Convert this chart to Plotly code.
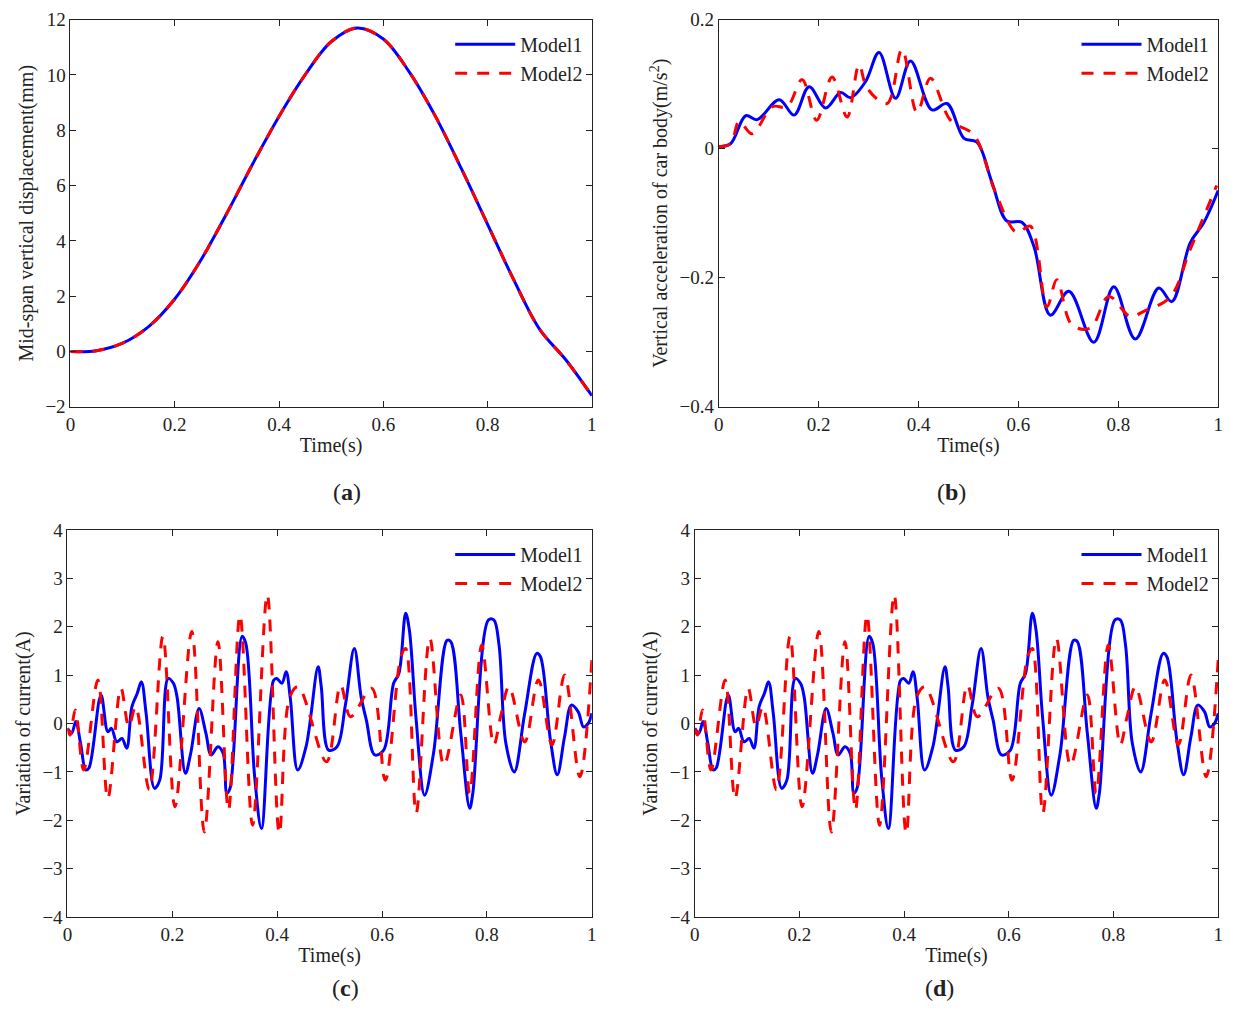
import plotly.graph_objects as go

# Panel (a): mid-span displacement (mm)
t_a = [0, 0.05, 0.1, 0.15, 0.2, 0.25, 0.3, 0.35, 0.4, 0.45, 0.5, 0.55, 0.6, 0.65, 0.7, 0.75, 0.8, 0.85, 0.9, 0.95, 1.0]
disp = [0, 0.03, 0.3, 0.9, 1.9, 3.3, 5.0, 6.8, 8.5, 10.0, 11.2, 11.7, 11.3, 10.1, 8.5, 6.6, 4.6, 2.6, 0.8, -0.3, -1.6]

# Panel (b): car body acceleration
t_b1 = [0, .024, .054, .077, .121, .151, .181, .214, .244, .264, .294, .321, .354, .384, .427, .457, .491, .517,
        .547, .577, .607, .631, .664, .701, .751, .791, .834, .881, .907, .944, .971, 1.0]
acc1 = [.003, .008, .051, .045, .076, .052, .096, .063, .087, .079, .104, .149, .078, .136, .060, .070, .016, .010,
        -.052, -.112, -.114, -.151, -.258, -.221, -.300, -.214, -.295, -.216, -.237, -.146, -.115, -.065]
t_b2 = [0, .024, .041, .067, .107, .137, .167, .196, .227, .257, .281, .297, .337, .367, .397, .424, .464, .511,
        .554, .597, .624, .657, .677, .707, .744, .781, .824, .851, .904, .944, .997]
acc2 = [.003, .008, .042, .023, .065, .065, .107, .044, .111, .049, .130, .094, .070, .154, .056, .109, .044, .021,
        -.068, -.130, -.120, -.245, -.203, -.273, -.278, -.229, -.260, -.252, -.230, -.156, -.057]

# Panels (c),(d): variation of current (A)
t_c1 = [0, .008, .016, .025, .035, .041, .064, .077, .084, .094, .104, .113, .123, .133, .141, .150, .166, .176,
        .192, .202, .209, .225, .235, .251, .264, .274, .287, .297, .304, .310, .333, .340, .357, .370, .393, .399,
        .409, .417, .425, .439, .455, .478, .484, .498, .514, .530, .547, .560, .570, .586, .603, .622, .632, .645,
        .652, .665, .681, .698, .724, .731, .750, .767, .773, .803, .813, .823, .836, .852, .872, .895, .902, .921,
        .934, .948, .961, .974, .984, .993, 1.0]
cur1 = [-.10, -.20, .04, -.41, -.96, -.92, .59, -.17, -.10, -.38, -.31, -.51, .35, .62, .86, .21, -1.34, -1.17,
        .93, .83, .55, -1.03, -.62, .31, -.20, -.65, -.48, -.62, -1.44, -1.34, 1.80, 1.66, -1.10, -2.17, .89, .93,
        .83, 1.07, .52, -.96, -.48, 1.17, .76, -.55, -.48, .38, 1.55, .55, .07, -.65, -.55, .83, 1.03, 2.28,
        1.93, .07, -1.48, -.62, 1.72, 1.69, -.20, -1.75, -1.44, 2.14, 2.14, 1.62, -.41, -1.00, .21, 1.45, 1.38, -.34,
        -1.06, -.27, .38, .24, -.07, 0.0, .21]
t_c2 = [0, .005, .015, .031, .058, .077, .102, .117, .130, .156, .182, .205, .237, .261, .287, .307, .329, .353,
        .381, .404, .424, .440, .494, .521, .540, .580, .606, .636, .645, .665, .691, .718, .750, .767, .790, .813,
        .826, .842, .872, .898, .924, .948, .977, 1.0]
cur2 = [-.10, -.24, .28, -.96, .90, -1.55, .73, -.06, .35, -1.37, 1.80, -1.72, 1.90, -2.24, 1.69, -1.79, 2.24, -2.10,
        2.66, -2.27, .55, .76, -.79, .79, .14, .73, -1.17, 1.38, 1.55, -1.85, 1.76, -.86, .59, -1.44, 1.62, -.44,
        .14, .76, -.38, .90, -.44, 1.00, -1.10, 1.31]

x_ticks = [0, 0.2, 0.4, 0.6, 0.8, 1]

W, H = 1236, 1027
FONT = "Liberation Serif, Times New Roman, serif"
BLUE = "#0000ff"
RED = "#ff0000"

# correction from target pixel to layout pixel (measured from the render)
def px_x(r):
    return (r - 11.5) / 0.993

def px_y(r):
    return (r - 18.4) / 0.979

panels = [
    (t_a, disp, t_a, disp, (69, 591, 20, 407), [-2, 12], [-2, 0, 2, 4, 6, 8, 10, 12],
     "Mid-span vertical displacement(mm)", "a"),
    (t_b1, acc1, t_b2, acc2, (718, 1218, 20, 407), [-0.4, 0.2], [-0.4, -0.2, 0, 0.2],
     "Vertical acceleration of car body(m/s<sup>2</sup>)", "b"),
    (t_c1, cur1, t_c2, cur2, (66, 591, 530, 917), [-4, 4], [-4, -3, -2, -1, 0, 1, 2, 3, 4],
     "Variation of current(A)", "c"),
    (t_c1, cur1, t_c2, cur2, (694, 1218, 530, 917), [-4, 4], [-4, -3, -2, -1, 0, 1, 2, 3, 4],
     "Variation of current(A)", "d"),
]

fig = go.Figure()
layout = dict(width=W, height=H, margin=dict(l=0, r=0, t=0, b=0), paper_bgcolor="white",
              plot_bgcolor="white", font=dict(family=FONT, size=18, color="#222"), annotations=[])

for i, (t1, y1, t2, y2, box, yr, ytv, ytitle, lab) in enumerate(panels):
    n = i + 1
    xa = "x" if n == 1 else f"x{n}"
    ya = "y" if n == 1 else f"y{n}"
    lg = "legend" if n == 1 else f"legend{n}"
    fig.add_trace(go.Scatter(x=t1, y=y1, mode="lines", name="Model1", line=dict(color=BLUE, width=3, shape="spline"),
                             xaxis=xa, yaxis=ya, legend=lg))
    fig.add_trace(go.Scatter(x=t2, y=y2, mode="lines", name="Model2",
                             line=dict(color=RED, width=3, dash="12px,10px", shape="spline"),
                             xaxis=xa, yaxis=ya, legend=lg))
    x0, x1, y0, y1p = box
    dx = [px_x(x0) / W, px_x(x1) / W]
    dy = [1 - px_y(y1p) / H, 1 - px_y(y0) / H]
    axkey = "xaxis" if n == 1 else f"xaxis{n}"
    aykey = "yaxis" if n == 1 else f"yaxis{n}"
    common = dict(showline=True, linecolor="#222", linewidth=1, mirror="ticks", ticks="inside", ticklen=6,
                  tickcolor="#222", showgrid=False, zeroline=False, tickfont=dict(size=19))
    layout[axkey] = dict(domain=dx, range=[0, 1], tickvals=x_ticks, ticktext=["0", "0.2", "0.4", "0.6", "0.8", "1"],
                         anchor=ya, title=dict(text="Time(s)", standoff=4, font=dict(size=20)), **common)
    layout[aykey] = dict(domain=dy, range=yr, tickvals=ytv, anchor=xa,
                         title=dict(text=ytitle, standoff=6, font=dict(size=20)), **common)
    layout[lg] = dict(x=dx[1] - 0.003, y=dy[1] - 0.005, xanchor="right", yanchor="top", bgcolor="rgba(0,0,0,0)",
                      font=dict(size=20), itemwidth=60, tracegroupgap=0)
    layout["annotations"].append(dict(text=f"(<b>{lab}</b>)", xref="paper", yref="paper",
                                      x=(dx[0] + dx[1]) / 2, y=dy[0] - 0.085, showarrow=False,
                                      font=dict(size=24, color="#222")))

fig.update_layout(**layout)
fig.write_html("out.html")
